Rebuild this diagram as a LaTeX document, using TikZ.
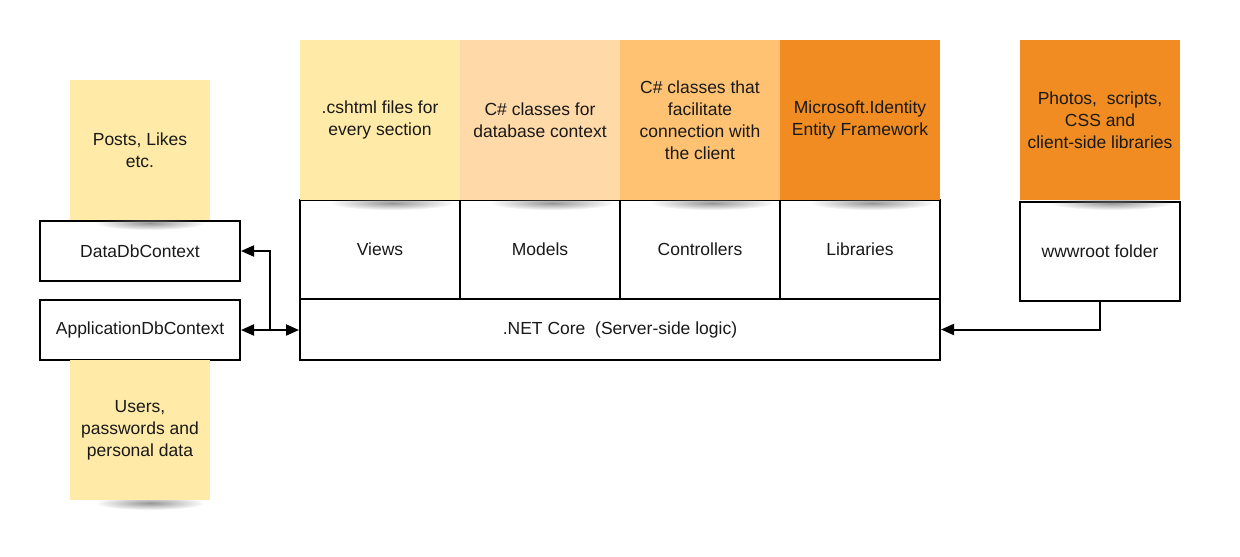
\documentclass[tikz,border=0pt]{standalone}
\usepackage{fontspec}
\setmainfont{Liberation Sans}
\usetikzlibrary{arrows.meta,fadings}
\tikzfading[name=fuzzy, inner color=transparent!25, outer color=transparent!100]
\definecolor{cYellow}{HTML}{FFEAA7}
\definecolor{cPeach}{HTML}{FFD9A8}
\definecolor{cLOrange}{HTML}{FFC272}
\definecolor{cOrange}{HTML}{F08C22}
\tikzset{
  txt/.style={font=\fontsize{17.5}{22}\selectfont, align=center, text=black!90},
  box/.style={txt, draw=black, line width=2pt, fill=white, inner sep=0pt},
  sticky/.style={txt, inner sep=0pt, minimum width=#1, minimum height=#1},
  conn/.style={line width=2pt, draw=black},
  mytip/.tip={Triangle[length=13pt,width=11pt]},
  shadowblob/.style={fill=black!55, path fading=fuzzy}
}
\begin{document}
\begin{tikzpicture}[x=1pt,y=-1pt]
\useasboundingbox (0,0) rectangle (1240,557);
% boxes
\node[box, minimum width=200pt, minimum height=60pt] (dataN) at (140,251) {DataDbContext};
\node[box, minimum width=200pt, minimum height=60pt] (appN) at (140,330) {ApplicationDbContext};
\node[box, minimum width=160pt, minimum height=99pt] (viewsN) at (380,249.5) {Views};
\node[box, minimum width=160pt, minimum height=99pt] (modelsN) at (540,249.5) {Models};
\node[box, minimum width=160pt, minimum height=99pt] (ctrlN) at (700,249.5) {Controllers};
\node[box, minimum width=160pt, minimum height=99pt] (libN) at (860,249.5) {Libraries};
\node[box, minimum width=640pt, minimum height=61pt] (netN) at (620,329.5) {.NET Core\ \ (Server-side logic)};
\node[box, minimum width=160pt, minimum height=99pt] (wwwN) at (1100,251.5) {wwwroot folder};
% shadows
\foreach \cx/\cy/\rx in {150/223/55, 150/503/55, 392/203/62, 552/203/62, 712/203/62, 872/203/62, 1112/203/62}{
  \fill[shadowblob] (\cx,\cy) ellipse [x radius=\rx pt, y radius=7pt];
}
% stickies
\node[sticky=140pt, fill=cYellow] (postsN) at (140,150) {Posts, Likes\\etc.};
\node[sticky=140pt, fill=cYellow] (usersN) at (140,430) {Users,\\passwords and\\personal data};
\node[sticky=160pt, fill=cYellow] (s1) at (380,120) {.cshtml files for\\every section};
\node[sticky=160pt, fill=cPeach] (s2) at (540,120) {C\# classes for\\database context};
\node[sticky=160pt, fill=cLOrange] (s3) at (700,120) {C\# classes that\\facilitate\\connection with\\the client};
\node[sticky=160pt, fill=cOrange] (s4) at (860,120) {Microsoft.Identity\\Entity Framework};
\node[sticky=160pt, fill=cOrange] (s5) at (1100,120) {Photos,\ \ scripts,\\CSS and\\client-side libraries};
% connectors
\coordinate (j) at (270,330);
\draw[conn, {mytip}-{mytip}] (appN.east) -- (appN.east -| netN.west);
\draw[conn, -{mytip}] (j) |- (dataN.east);
\draw[conn, -{mytip}] (wwwN.south) |- (netN.east);
\end{tikzpicture}
\end{document}
